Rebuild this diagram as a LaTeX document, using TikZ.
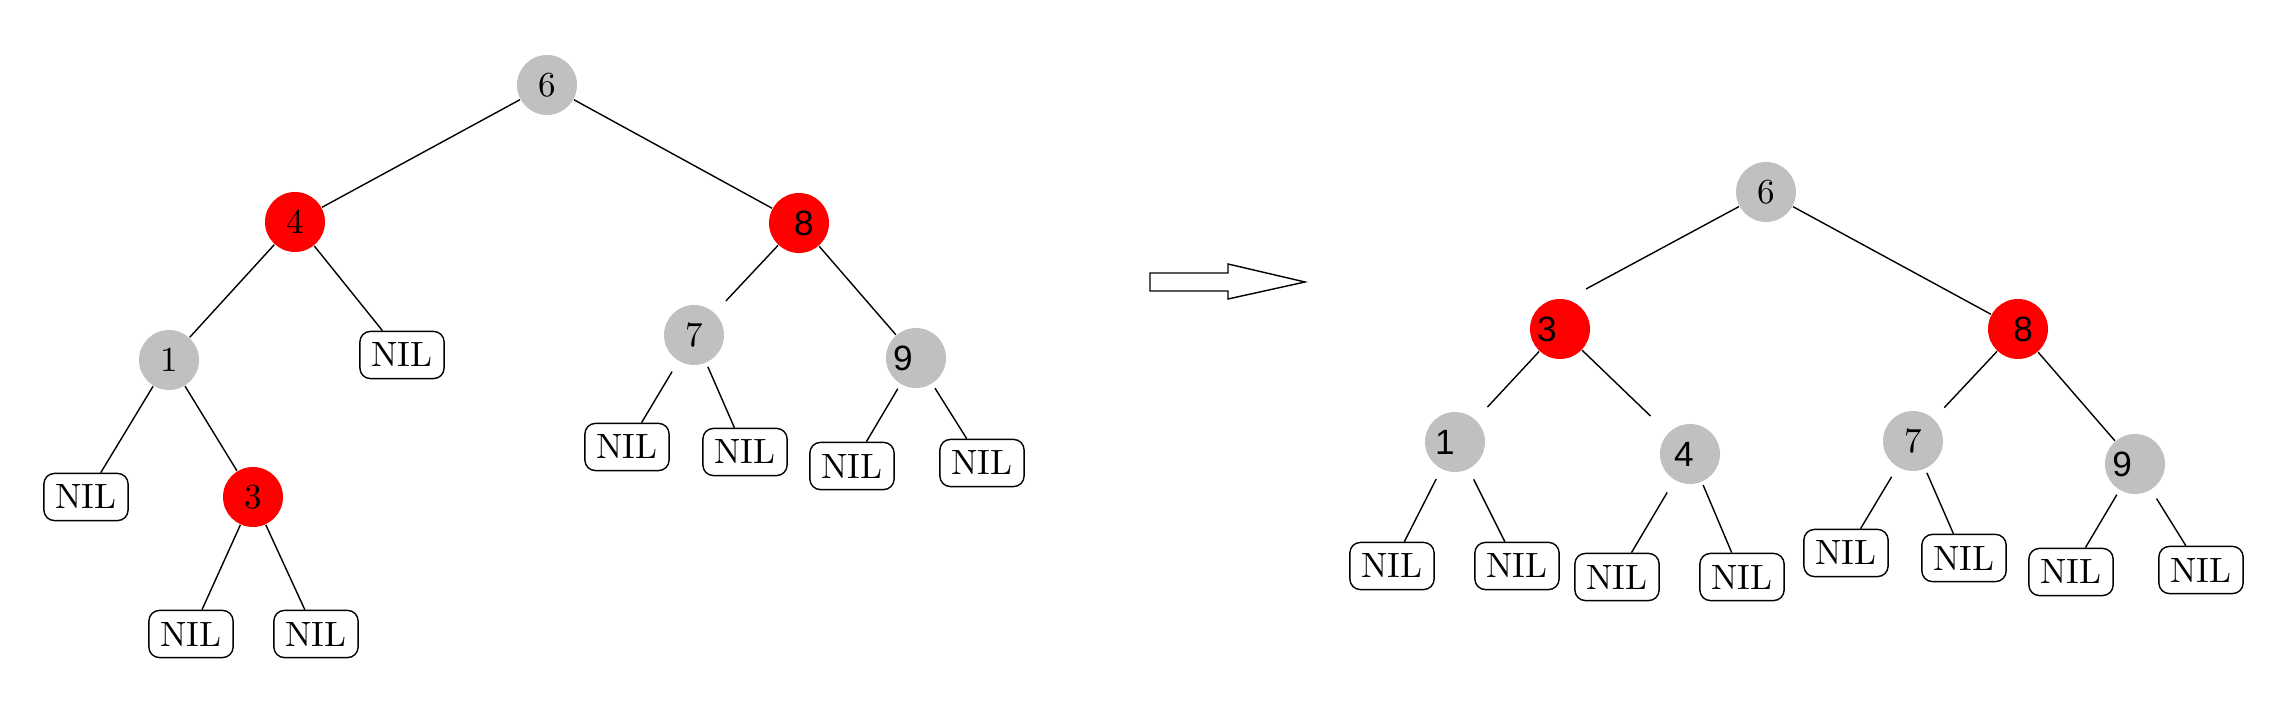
\documentclass[tikz,border=0pt]{standalone}
\usepackage{fontspec}
\usetikzlibrary{shapes}
\newfontfamily\sflab{Liberation Sans}
\definecolor{nodegray}{RGB}{192,192,192}
\tikzstyle{graynode}=[circle, fill=nodegray, minimum size=0.6cm, inner sep=0pt]
\tikzstyle{rednode}=[circle, fill=red, minimum size=0.6cm, inner sep=0pt]
\tikzstyle{nilbox}=[draw, rounded corners=3pt, inner sep=3.3pt]
\begin{document}
\begin{tikzpicture}
\useasboundingbox (0,0) rectangle (22.89,7.13);
% before
\node[graynode] (L6) at (5.47,6.28) {6};
\node[rednode]  (L4) at (2.95,4.91) {4};
\node[rednode]  (L8) at (7.99,4.90) {\kern0.1cm\sflab 8};
\node[graynode] (L1) at (1.69,3.53) {1};
\node[graynode] (L7) at (6.94,3.78) {7};
\node[graynode] (L9) at (9.16,3.55) {\sflab 9\kern0.26cm};
\node[rednode]  (L3) at (2.53,2.16) {3};
\foreach \n/\x/\y in {a/4.02/3.58, b/0.86/2.16, c/1.91/0.79, d/3.16/0.79, e/6.27/2.66, f/7.45/2.61, g/8.52/2.47, h/9.82/2.50}
  \node[nilbox] (Ln\n) at (\x,\y) {NIL};
\foreach \a/\b/\s/\e in {L6/L4/0/0, L6/L8/0/0, L4/L1/0/0, L4/Lna/0/0, L8/L7/0/0.16, L8/L9/0/0,
  L1/Lnb/0/0, L1/L3/0/0, L3/Lnc/0/0, L3/Lnd/0/0, L7/Lne/0.12/0, L7/Lnf/0.04/0, L9/Lng/0.05/0, L9/Lnh/0.05/0}
  \draw[shorten <=\s cm, shorten >=\e cm] (\a) -- (\b);
% arrow
\draw (11.50,4.22) -- (12.28,4.22) -- (12.28,4.14) -- (13.05,4.31) -- (12.28,4.49) -- (12.28,4.40) -- (11.50,4.40) -- cycle;
% after
\node[graynode] (R6) at (17.66,5.21) {6};
\node[rednode]  (R3) at (15.60,3.84) {\sflab 3\kern0.26cm};
\node[rednode]  (R8) at (20.18,3.84) {\kern0.1cm\sflab 8};
\node[graynode] (R1) at (14.55,2.71) {\sflab 1\kern0.2cm};
\node[graynode] (R4) at (16.90,2.59) {\sflab 4\kern0.12cm};
\node[graynode] (R7) at (19.13,2.72) {7};
\node[graynode] (R9) at (21.35,2.49) {\sflab 9\kern0.26cm};
\foreach \n/\x/\y in {a/13.92/1.47, b/15.17/1.47, c/16.17/1.36, d/17.42/1.36, e/18.46/1.60, f/19.64/1.55, g/20.71/1.41, h/22.01/1.43}
  \node[nilbox] (Rn\n) at (\x,\y) {NIL};
\coordinate (R6end) at (15.86,4.24);
\draw (R6) -- (R6end);
\foreach \a/\b/\s/\e in {R6/R8/0/0, R3/R1/0/0.17, R3/R4/0/0.24, R8/R7/0/0.15, R8/R9/0/0,
  R1/Rna/0.11/0, R1/Rnb/0.11/0, R4/Rnc/0.14/0, R4/Rnd/0.03/0, R7/Rne/0.11/0, R7/Rnf/0.04/0, R9/Rng/0.05/0, R9/Rnh/0.10/0}
  \draw[shorten <=\s cm, shorten >=\e cm] (\a) -- (\b);
\end{tikzpicture}
\end{document}
